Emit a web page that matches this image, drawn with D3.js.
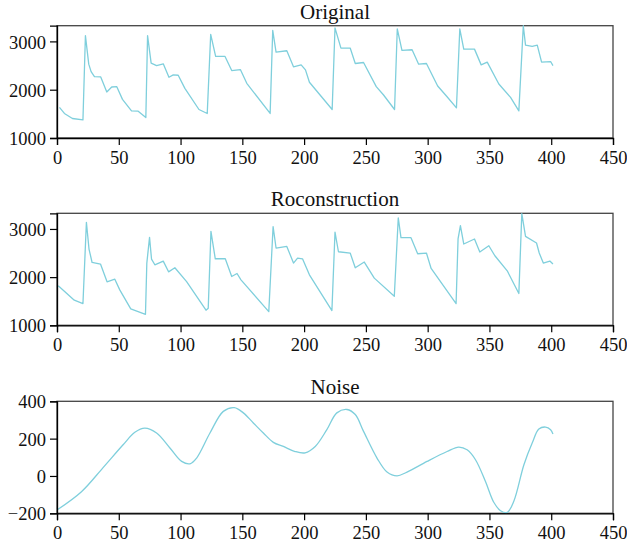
<!DOCTYPE html>
<html>
<head>
<meta charset="utf-8">
<script src="https://cdn.jsdelivr.net/npm/d3@7"></script>
<style>
  html, body { margin: 0; padding: 0; background: #fff; }
  svg { display: block; }
  text { font-family: "Liberation Serif", "DejaVu Serif", serif; fill: #111; }
</style>
</head>
<body>
<svg id="chart" width="627" height="549"></svg>
<script>
// ---------------- data ----------------
const titles = ["Original", "Roconstruction", "Noise"];
const xTicks = [0, 50, 100, 150, 200, 250, 300, 350, 400, 450];
const yTicksSignal = [1000, 2000, 3000];
const yTicksNoise = [-200, 0, 200, 400];

const originalX = [2, 6, 12.5, 21, 23, 25.7, 27.6, 30.3, 35.4, 40.3, 44.3, 48.4, 53, 60.3, 65.7, 71.9,
  73.3, 76.2, 80.6, 86, 90.6, 94.1, 98.1, 103.5, 114.9, 121.6,
  124.4, 128.4, 136, 141.4, 148.4, 153.6, 172.5,
  174.6, 177.3, 186, 191.4, 197.6, 201.1, 204.3, 222.7,
  225, 229.8, 237.3, 241.4, 248.1, 258.4, 264.3, 273.2,
  275.4, 279.2, 287.4, 292.7, 299, 308.1, 315.7, 323.3,
  326, 329.2, 337.9, 343.3, 348.2, 357.6, 367.1, 373.8,
  377.4, 379.2, 384.6, 388.7, 392.2, 399.5, 401.4];
const originalY = [1633, 1508, 1404, 1375, 3119, 2529, 2375, 2271, 2264, 1952, 2056, 2062, 1800, 1562, 1556, 1424,
  3119, 2549, 2500, 2535, 2257, 2306, 2299, 2028, 1590, 1508,
  3146, 2688, 2688, 2396, 2417, 2133, 1508,
  3229, 2778, 2806, 2473, 2515, 2410, 2154, 1590,
  3279, 2862, 2862, 2542, 2563, 2063, 1890, 1590,
  3258, 2813, 2827, 2528, 2542, 2077, 1854, 1625,
  3258, 2840, 2840, 2514, 2570, 2118, 1840, 1562,
  3325, 2924, 2896, 2924, 2570, 2583, 2500];

const reconX = [1, 14, 21, 23.8, 25.9, 28.4, 35.2, 40.5, 46.8, 50.8, 59.7, 71.6,
  72.7, 74.9, 76.5, 79.2, 86, 90.3, 95.4, 104.9, 120.6, 122.4,
  124.6, 128.1, 136.2, 141.4, 145.7, 148.9, 171.4,
  174.9, 177.3, 186, 191.4, 194.7, 198.7, 204.3, 222.5,
  225, 227.8, 237.3, 241.4, 248.7, 256.8, 273,
  276.2, 278.4, 286.5, 291.9, 299, 302.8, 323,
  324.6, 326.5, 329.2, 337.9, 342.2, 349.5, 354.4, 364.4, 373.8,
  376.2, 379.2, 388.1, 390.3, 393.6, 398.9, 401.4];
const reconY = [1819, 1521, 1450, 3138, 2583, 2304, 2271, 1902, 1958, 1735, 1340, 1229,
  2292, 2825, 2375, 2256, 2333, 2110, 2194, 1908, 1313, 1354,
  2950, 2381, 2381, 2013, 2075, 1944, 1283,
  3048, 2604, 2638, 2292, 2396, 2381, 2048, 1306,
  2933, 2527, 2500, 2194, 2313, 1979, 1604,
  3229, 2819, 2819, 2485, 2500, 2180, 1450,
  2792, 3069, 2688, 2792, 2521, 2652, 2444, 2131, 1660,
  3319, 2846, 2708, 2500, 2292, 2333, 2271];

const noiseX = [0, 19.8, 37.3, 53.5, 63, 71.1, 80.6, 91.4, 100.9, 107.6, 113, 123.8, 134.6, 143.5, 150.8,
  158.9, 167, 175.1, 183.2, 192.7, 200.8, 209, 218.4, 226.5, 234.7, 241.4, 248.1, 259, 267.1, 275.2,
  283.3, 299.5, 315.7, 325.1, 331.9, 338.7, 346.8, 353.5, 359, 364.4, 369.8, 377.9, 384.6, 390,
  395.4, 399.5, 401.4];
const noiseY = [-182, -84, 45, 167, 234, 256, 230, 150, 78, 65, 96, 230, 346, 366, 338,
  284, 230, 180, 158, 131, 124, 158, 248, 338, 356, 329, 239, 96, 21, 0,
  21, 78, 131, 155, 140, 87, -30, -141, -186, -195, -134, 60, 176, 251,
  262, 248, 225];

// ---------------- layout ----------------
const svg = d3.select("#chart");
const left = 57, right = 613;
const lineColor = "#7fcfdc";

const panels = [
  { title: titles[0], top: 25.7, bottom: 138, domain: [1000, 3325], ticks: yTicksSignal, xs: originalX, ys: originalY, curve: d3.curveLinear },
  { title: titles[1], top: 213.3, bottom: 325.3, domain: [1000, 3325], ticks: yTicksSignal, xs: reconX, ys: reconY, curve: d3.curveLinear },
  { title: titles[2], top: 401.3, bottom: 513.3, domain: [-200, 400], ticks: yTicksNoise, xs: noiseX, ys: noiseY, curve: d3.curveCatmullRom.alpha(0.5) }
];

const x = d3.scaleLinear().domain([0, 450]).range([left, right]);

panels.forEach(p => {
  const y = d3.scaleLinear().domain(p.domain).range([p.bottom, p.top]);
  const g = svg.append("g");

  // frame (top/right grey)
  g.append("rect")
    .attr("x", left).attr("y", p.top)
    .attr("width", right - left).attr("height", p.bottom - p.top)
    .attr("fill", "none").attr("stroke", "#444").attr("stroke-width", 1.3);

  // line
  const data = p.xs.map((v, i) => [v, p.ys[i]]);
  g.append("path")
    .datum(data)
    .attr("fill", "none")
    .attr("stroke", lineColor)
    .attr("stroke-width", 1.3)
    .attr("stroke-linejoin", "round")
    .attr("d", d3.line().x(d => x(d[0])).y(d => y(d[1])).curve(p.curve));

  // axes
  const xAxis = g.append("g")
    .attr("transform", `translate(0,${p.bottom})`)
    .call(d3.axisBottom(x).tickValues(xTicks).tickSize(7).tickPadding(6).tickFormat(d3.format("d")));
  const yAxis = g.append("g")
    .attr("transform", `translate(${left},0)`)
    .call(d3.axisLeft(y).tickValues(p.ticks).tickSize(7).tickPadding(4).tickFormat(d3.format("d")));

  [xAxis, yAxis].forEach(a => {
    a.select(".domain").attr("stroke", "#000").attr("stroke-width", 1.3);
    a.selectAll(".tick line").attr("stroke", "#000").attr("stroke-width", 1.2);
    a.selectAll(".tick text")
      .attr("fill", "#111")
      .style("font-family", '"Liberation Serif", "DejaVu Serif", serif')
      .style("font-size", "18.5px");
  });
  xAxis.attr("font-size", null);
  yAxis.attr("font-size", null);
  yAxis.selectAll(".tick text").attr("dy", "0.36em");

  // title
  g.append("text")
    .attr("x", (left + right) / 2)
    .attr("y", p.top - 7)
    .attr("text-anchor", "middle")
    .style("font-size", "21px")
    .text(p.title);
});
</script>
</body>
</html>
